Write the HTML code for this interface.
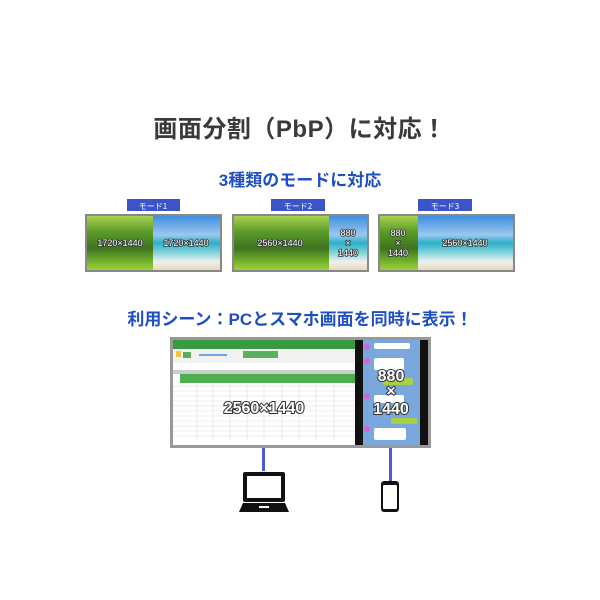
<!DOCTYPE html>
<html><head><meta charset="utf-8"><style>
html,body{margin:0;padding:0;background:#fff;}
body{width:600px;height:600px;position:relative;overflow:hidden;font-family:"Liberation Sans","Noto Sans CJK JP",sans-serif;}
.t{position:absolute;left:0;width:600px;text-align:center;font-weight:bold;white-space:nowrap;}
</style></head><body>
<div class="t" style="top:109px;font-size:24px;color:#3a3a3a;letter-spacing:0.5px;">画面分割（PbP）に対応！</div>
<div class="t" style="top:166px;font-size:17px;color:#1f4fc4;">3種類のモードに対応</div>
<div class="t" style="top:305px;font-size:17px;color:#1f4fc4;">利用シーン：PCとスマホ画面を同時に表示！</div>
<svg width="600" height="600" style="position:absolute;left:0;top:0" xmlns="http://www.w3.org/2000/svg">
<defs>
<linearGradient id="tree" x1="0" y1="0" x2="0" y2="1"><stop offset="0" stop-color="#a8d050"/><stop offset="0.3" stop-color="#5a9a28"/><stop offset="0.6" stop-color="#3e7420"/><stop offset="0.8" stop-color="#6aa82a"/><stop offset="1" stop-color="#9bd23a"/></linearGradient>
<linearGradient id="sea" x1="0" y1="0" x2="0" y2="1"><stop offset="0" stop-color="#3d8fe0"/><stop offset="0.35" stop-color="#9cc8ee"/><stop offset="0.5" stop-color="#2bb0c8"/><stop offset="0.7" stop-color="#8fd8dc"/><stop offset="0.85" stop-color="#f0f0f0"/><stop offset="1" stop-color="#e8d8b8"/></linearGradient>
</defs>
<rect x="127" y="199" width="53" height="12" fill="#3b55c8"/><text x="153" y="209" fill="#fff" text-anchor="middle" font-size="8" font-family="Noto Sans CJK JP,sans-serif">モード1</text>
<rect x="271" y="199" width="54" height="12" fill="#3b55c8"/><text x="298" y="209" fill="#fff" text-anchor="middle" font-size="8" font-family="Noto Sans CJK JP,sans-serif">モード2</text>
<rect x="418" y="199" width="54" height="12" fill="#3b55c8"/><text x="445" y="209" fill="#fff" text-anchor="middle" font-size="8" font-family="Noto Sans CJK JP,sans-serif">モード3</text>
<rect x="85" y="214" width="137" height="58" fill="#888"/>
<rect x="87" y="216" width="66" height="54" fill="url(#tree)"/>
<rect x="153" y="216" width="67" height="54" fill="url(#sea)"/>
<rect x="232" y="214" width="137" height="58" fill="#888"/>
<rect x="234" y="216" width="95" height="54" fill="url(#tree)"/>
<rect x="329" y="216" width="38" height="54" fill="url(#sea)"/>
<rect x="378" y="214" width="137" height="58" fill="#888"/>
<rect x="380" y="216" width="38" height="54" fill="url(#tree)"/>
<rect x="418" y="216" width="95" height="54" fill="url(#sea)"/>
<g font-family="Liberation Sans,sans-serif" font-size="9" fill="#fff" stroke="#333" stroke-width="1.6" paint-order="stroke" text-anchor="middle">
<text x="120" y="246">1720×1440</text><text x="186" y="246">1720×1440</text>
<text x="280" y="246">2560×1440</text><text x="348" y="236">880</text><text x="348" y="246">×</text><text x="348" y="256">1440</text>
<text x="398" y="236">880</text><text x="398" y="246">×</text><text x="398" y="256">1440</text><text x="465" y="246">2560×1440</text>
</g>
<rect x="170" y="337" width="261" height="111" fill="#999"/>
<rect x="173" y="340" width="182" height="105" fill="#fff"/>
<rect x="173" y="340" width="182" height="9" fill="#3a9a3e"/>
<rect x="173" y="349" width="182" height="14" fill="#f2f2f2"/>
<rect x="176" y="351" width="5" height="6" fill="#f2c83a"/>
<rect x="183" y="352" width="8" height="6" fill="#5ab05e"/>
<rect x="199" y="354" width="28" height="2" fill="#6aa8e0"/>
<rect x="243" y="351" width="35" height="7" fill="#5ab05e"/>
<rect x="173" y="370" width="182" height="4" fill="#ccc"/>
<rect x="180" y="374" width="175" height="9" fill="#4caf50"/>
<g stroke="#ddd" stroke-width="0.6">
<line x1="173" y1="386" x2="355" y2="386"/><line x1="173" y1="391" x2="355" y2="391"/><line x1="173" y1="396" x2="355" y2="396"/><line x1="173" y1="401" x2="355" y2="401"/><line x1="173" y1="406" x2="355" y2="406"/><line x1="173" y1="411" x2="355" y2="411"/><line x1="173" y1="416" x2="355" y2="416"/><line x1="173" y1="421" x2="355" y2="421"/><line x1="173" y1="426" x2="355" y2="426"/><line x1="173" y1="431" x2="355" y2="431"/><line x1="173" y1="436" x2="355" y2="436"/>
<line x1="197" y1="383" x2="197" y2="440"/><line x1="213" y1="383" x2="213" y2="440"/><line x1="230" y1="383" x2="230" y2="440"/><line x1="247" y1="383" x2="247" y2="440"/><line x1="264" y1="383" x2="264" y2="440"/><line x1="282" y1="383" x2="282" y2="440"/><line x1="299" y1="383" x2="299" y2="440"/><line x1="316" y1="383" x2="316" y2="440"/><line x1="334" y1="383" x2="334" y2="440"/>
</g>
<rect x="355" y="340" width="73" height="105" fill="#111"/>
<rect x="363" y="340" width="57" height="105" fill="#7aa8dc"/>
<rect x="374" y="343" width="36" height="6" rx="2" fill="#fff"/>
<rect x="374" y="358" width="30" height="12" rx="2" fill="#fff"/>
<rect x="383" y="378" width="30" height="7" rx="2" fill="#a8d040"/>
<rect x="374" y="395" width="30" height="8" rx="2" fill="#fff"/>
<rect x="391" y="418" width="26" height="6" rx="2" fill="#a8d040"/>
<rect x="374" y="428" width="32" height="12" rx="2" fill="#fff"/>
<circle cx="367" cy="347" r="3" fill="#d860d8"/><circle cx="367" cy="361" r="3" fill="#d860d8"/><circle cx="367" cy="396" r="3" fill="#d860d8"/><circle cx="367" cy="429" r="3" fill="#d860d8"/>
<g font-family="Liberation Sans,sans-serif" font-weight="bold" fill="#fff" stroke="#333" stroke-width="2" text-anchor="middle" paint-order="stroke">
<text x="264" y="413" font-size="16">2560×1440</text>
<text x="391" y="381" font-size="16">880</text><text x="391" y="396" font-size="16">×</text><text x="391" y="414" font-size="16">1440</text>
</g>
<rect x="262" y="448" width="3" height="23" fill="#4a5bd0"/>
<rect x="389" y="448" width="3" height="33" fill="#4a5bd0"/>
<rect x="243" y="472" width="42" height="30" rx="2" fill="#111"/>
<rect x="247" y="476" width="34" height="22" fill="#fff"/>
<path d="M239 512 L243 503 L285 503 L289 512 Z" fill="#111"/>
<rect x="259" y="506" width="10" height="2" fill="#fff"/>
<rect x="381" y="481" width="18" height="31" rx="3" fill="#111"/>
<rect x="383" y="485" width="14" height="24" rx="1" fill="#fff"/>
</svg>
</body></html>
